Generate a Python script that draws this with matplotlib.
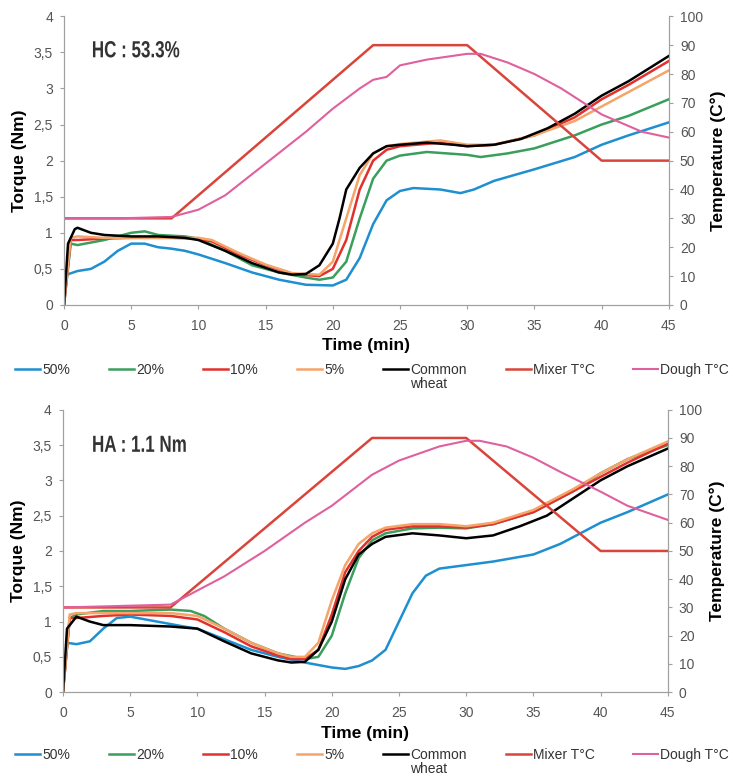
import matplotlib
matplotlib.use("Agg")
import matplotlib.pyplot as plt
from matplotlib.ticker import FuncFormatter
from matplotlib.textpath import TextPath
from matplotlib.patches import PathPatch
from matplotlib.font_manager import FontProperties
from matplotlib.transforms import Affine2D, IdentityTransform

plt.rcParams['font.family'] = ['Liberation Sans', 'DejaVu Sans']

# ---- shared temperature profile of the mixer (time in min, temperature in C) ----
mixer_t = [0, 8, 23, 30, 40, 45]
mixer_v = [30, 30, 90, 90, 50, 50]

# ---- panel 1 : HC ----
hc_title = "HC : 53.3%"
hc_dough_t = [0, 4, 8, 10, 12, 15, 18, 20, 22, 23, 24, 25, 27, 30, 31, 33, 35, 37, 40, 43, 45]
hc_dough_v = [30, 30, 30.5, 33, 38, 49, 60, 68, 75, 78, 79, 83, 85, 87, 87, 84, 80, 75, 66, 60, 58]

hc_t50 = [0, 0.2, 1, 2, 3, 4, 5, 6, 7, 8, 9, 10, 12, 14, 16, 18, 20, 21, 22, 23, 24, 25, 26, 28, 29.5, 30.5, 32, 35, 38, 40, 42, 45]
hc_v50 = [0, 0.42, 0.47, 0.5, 0.6, 0.75, 0.85, 0.85, 0.8, 0.78, 0.75, 0.7, 0.58, 0.45, 0.35, 0.28, 0.27, 0.35, 0.65, 1.12, 1.45, 1.58, 1.62, 1.6, 1.55, 1.6, 1.72, 1.88, 2.05, 2.22, 2.35, 2.53]
hc_t20 = [0, 0.5, 1, 3, 5, 6, 7, 9, 10, 12, 14, 16, 18, 19, 20, 21, 22, 23, 24, 25, 27, 30, 31, 33, 35, 38, 40, 42, 45]
hc_v20 = [0, 0.85, 0.83, 0.9, 1.0, 1.02, 0.97, 0.95, 0.92, 0.75, 0.55, 0.45, 0.38, 0.35, 0.38, 0.6, 1.2, 1.75, 2.0, 2.07, 2.12, 2.08, 2.05, 2.1, 2.17, 2.35, 2.5, 2.62, 2.85]
hc_t10 = [0, 0.5, 1, 3, 5, 8, 10, 11, 13, 15, 17, 19, 20, 21, 22, 23, 24, 25, 28, 30, 32, 35, 38, 40, 42, 45]
hc_v10 = [0, 0.9, 0.9, 0.92, 0.93, 0.93, 0.92, 0.88, 0.7, 0.55, 0.43, 0.4, 0.5, 0.9, 1.6, 2.0, 2.15, 2.2, 2.25, 2.2, 2.22, 2.35, 2.6, 2.85, 3.05, 3.38]
hc_t5 = [0, 0.5, 1, 3, 5, 8, 10, 11, 13, 15, 17, 19, 20, 21, 22, 23, 24, 25, 28, 30, 32, 35, 38, 40, 42, 45]
hc_v5 = [0, 0.93, 0.95, 0.93, 0.93, 0.93, 0.93, 0.9, 0.72, 0.56, 0.44, 0.42, 0.6, 1.2, 1.8, 2.1, 2.2, 2.23, 2.28, 2.22, 2.22, 2.35, 2.55, 2.75, 2.95, 3.25]
hc_tcw = [0, 0.3, 0.8, 1, 2, 3, 5, 7, 9, 10, 12, 14, 16, 17, 18, 19, 20, 20.5, 21, 22, 23, 24, 25, 27, 29, 30, 32, 34, 36, 38, 40, 42, 45]
hc_vcw = [0, 0.85, 1.05, 1.07, 1.0, 0.97, 0.95, 0.95, 0.93, 0.9, 0.75, 0.58, 0.45, 0.42, 0.43, 0.55, 0.85, 1.2, 1.6, 1.9, 2.1, 2.2, 2.22, 2.25, 2.22, 2.2, 2.22, 2.3, 2.45, 2.65, 2.9, 3.1, 3.45]

# ---- panel 2 : HA ----
ha_title = "HA : 1.1 Nm"
ha_dough_t = [0, 4, 8, 10, 12, 15, 18, 20, 23, 25, 28, 30, 31, 33, 35, 37, 40, 42, 45]
ha_dough_v = [30, 30.5, 31, 36, 41, 50, 60, 66, 77, 82, 87, 89, 89, 87, 83, 78, 71, 66, 61]

ha_t50 = [0, 0.3, 1, 2, 3, 4, 5, 7, 9, 10, 12, 14, 16, 18, 20, 21, 22, 23, 24, 25, 26, 27, 28, 30, 32, 35, 37, 40, 42, 45]
ha_v50 = [0, 0.7, 0.68, 0.72, 0.9, 1.05, 1.07, 1.0, 0.93, 0.9, 0.75, 0.6, 0.5, 0.42, 0.35, 0.33, 0.37, 0.45, 0.6, 1.0, 1.4, 1.65, 1.75, 1.8, 1.85, 1.95, 2.1, 2.4, 2.55, 2.8]
ha_t20 = [0, 0.5, 1, 3, 5, 8, 9.5, 10.5, 12, 14, 16, 18, 19, 20, 21, 22, 23, 24, 26, 28, 30, 32, 35, 38, 40, 42, 45]
ha_v20 = [0, 1.05, 1.1, 1.15, 1.15, 1.17, 1.15, 1.08, 0.9, 0.7, 0.55, 0.47, 0.5, 0.8, 1.4, 1.9, 2.15, 2.25, 2.32, 2.33, 2.32, 2.38, 2.55, 2.85, 3.1, 3.3, 3.5]
ha_t10 = [0, 0.5, 1, 3, 5, 8, 10, 12, 14, 16, 17, 18, 19, 20, 21, 22, 23, 24, 26, 28, 30, 32, 35, 38, 40, 42, 45]
ha_v10 = [0, 1.05, 1.05, 1.08, 1.1, 1.08, 1.03, 0.85, 0.65, 0.52, 0.47, 0.47, 0.6, 1.1, 1.7, 2.0, 2.2, 2.3, 2.35, 2.35, 2.33, 2.38, 2.55, 2.85, 3.05, 3.25, 3.52]
ha_t5 = [0, 0.5, 1, 3, 5, 8, 10, 12, 14, 16, 17, 18, 19, 20, 21, 22, 23, 24, 26, 28, 30, 32, 35, 38, 40, 42, 45]
ha_v5 = [0, 1.1, 1.12, 1.12, 1.12, 1.12, 1.08, 0.9, 0.7, 0.55, 0.5, 0.5, 0.7, 1.3, 1.8, 2.1, 2.25, 2.33, 2.38, 2.38, 2.35, 2.4, 2.58, 2.88, 3.1, 3.3, 3.55]
ha_tcw = [0, 0.3, 1, 2, 3, 5, 8, 10, 12, 14, 16, 17, 18, 19, 20, 21, 22, 23, 24, 26, 28, 30, 32, 34, 36, 38, 40, 42, 45]
ha_vcw = [0, 0.9, 1.07, 1.0, 0.95, 0.95, 0.93, 0.9, 0.72, 0.55, 0.45, 0.42, 0.43, 0.6, 1.0, 1.6, 1.95, 2.1, 2.2, 2.25, 2.22, 2.18, 2.22, 2.35, 2.5, 2.75, 3.0, 3.2, 3.45]

labels = ["50%", "20%", "10%", "5%", "Common", "Mixer T°C", "Dough T°C"]
colors = ["#1e8fd0", "#3a9e5c", "#e2302c", "#f5a46a", "#000000", "#d9453a", "#e0609e"]

fig = plt.figure(figsize=(7.34, 7.76), dpi=100)

panels = [
    ([0.0872, 0.607, 0.824, 0.372], hc_title, (0.046, 0.858),
     [(hc_t50, hc_v50), (hc_t20, hc_v20), (hc_t10, hc_v10), (hc_t5, hc_v5), (hc_tcw, hc_vcw)],
     (hc_dough_t, hc_dough_v), 0.548),
    ([0.0858, 0.108, 0.824, 0.364], ha_title, (0.048, 0.851),
     [(ha_t50, ha_v50), (ha_t20, ha_v20), (ha_t10, ha_v10), (ha_t5, ha_v5), (ha_tcw, ha_vcw)],
     (ha_dough_t, ha_dough_v), 0.052),
]

comma = FuncFormatter(lambda v, p: ("%g" % v).replace(".", ","))
title_fp = FontProperties(family='Liberation Sans', weight='bold')
legends = []

for rect, title, tpos, torque, dough, leg_y in panels:
    ax = fig.add_axes(rect)
    ax2 = ax.twinx()
    handles = []
    for (t, v), c, lab in zip(torque, colors[:5], labels[:5]):
        h, = ax.plot(t, v, color=c, lw=1.8, label=lab)
        handles.append(h)
    h, = ax2.plot(mixer_t, mixer_v, color=colors[5], lw=1.8, label=labels[5])
    handles.append(h)
    h, = ax2.plot(dough[0], dough[1], color=colors[6], lw=1.5, label=labels[6])
    handles.append(h)

    ax.set_xlim(0, 45)
    ax.set_ylim(0, 4)
    ax2.set_ylim(0, 100)
    ax.set_xticks(range(0, 46, 5))
    ax.set_yticks([0, 0.5, 1, 1.5, 2, 2.5, 3, 3.5, 4])
    ax2.set_yticks(range(0, 101, 10))
    ax.yaxis.set_major_formatter(comma)
    for a in (ax, ax2):
        a.spines['top'].set_visible(False)
        for s in ('left', 'bottom', 'right'):
            a.spines[s].set_color("#a0a0a0")
        a.tick_params(colors="#a0a0a0", labelcolor="#555555", labelsize=10, length=3, pad=5)
    ax.tick_params(axis='x', pad=7)
    ax.set_xlabel("Time (min)", fontsize=12.5, fontweight='bold', labelpad=4)
    ax.set_ylabel("Torque (Nm)", fontsize=12.5, fontweight='bold', labelpad=5)
    ax2.set_ylabel("Temperature (C°)", fontsize=12.5, fontweight='bold', labelpad=5)

    # condensed bold title drawn as a squeezed text path
    tp = TextPath((0, 0), title, size=23.3, prop=title_fp)
    x0, y0 = ax.transAxes.transform(tpos)
    tr = Affine2D().scale(0.73, 1.0).translate(x0, y0)
    ax.add_artist(PathPatch(tr.transform_path(tp), transform=IdentityTransform(),
                            facecolor="#333333", edgecolor="none"))

    leg = fig.legend(handles=handles, loc='upper left', bbox_to_anchor=(0.004, leg_y),
                     ncol=7, frameon=False, fontsize=10, handlelength=1.8, handletextpad=0.15,
                     columnspacing=2.8, labelcolor="#333333")
    legends.append(leg)

# second line of the "Common wheat" legend label
fig.canvas.draw()
inv = fig.transFigure.inverted()
for leg in legends:
    for txt in leg.get_texts():
        if txt.get_text() == "Common":
            bb = txt.get_window_extent()
            fx, fy = inv.transform((bb.x0, bb.y0))
            fig.text(fx, fy, "wheat", fontsize=10, color="#333333", va='top', ha='left')

fig.savefig("out.png", dpi=100)
